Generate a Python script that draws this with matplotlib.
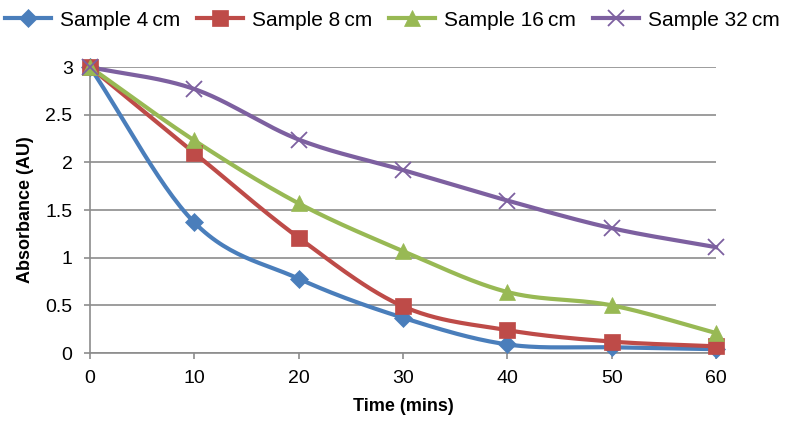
import numpy as np
import matplotlib
matplotlib.use('Agg')
import matplotlib.pyplot as plt

plt.rcParams['font.family'] = ['Liberation Sans', 'DejaVu Sans']

time = [0, 10, 20, 30, 40, 50, 60]
s4 = [3.0, 1.37, 0.78, 0.37, 0.09, 0.06, 0.04]
s8 = [3.0, 2.10, 1.21, 0.49, 0.24, 0.12, 0.07]
s16 = [3.0, 2.23, 1.57, 1.07, 0.64, 0.50, 0.21]
s32 = [3.0, 2.77, 2.24, 1.92, 1.60, 1.31, 1.11]

labels = ['Sample 4\u2009cm', 'Sample 8\u2009cm', 'Sample 16\u2009cm', 'Sample 32\u2009cm']
colors = ['#4A7EBB', '#BE4B48', '#98B954', '#7D60A0']
markers = ['D', 's', '^', 'x']
msizes = [9, 11, 11, 11]


def smooth(x, y, n=30):
    # catmull-rom curve through the points, like excel's smoothed lines
    x = np.asarray(x, float)
    y = np.asarray(y, float)
    px = np.concatenate([[2 * x[0] - x[1]], x, [2 * x[-1] - x[-2]]])
    py = np.concatenate([[2 * y[0] - y[1]], y, [2 * y[-1] - y[-2]]])
    xs, ys = [], []
    t = np.linspace(0, 1, n)
    for i in range(1, len(px) - 2):
        for p, out in ((px, xs), (py, ys)):
            p0, p1, p2, p3 = p[i - 1], p[i], p[i + 1], p[i + 2]
            out.extend(0.5 * (2 * p1 + (-p0 + p2) * t
                              + (2 * p0 - 5 * p1 + 4 * p2 - p3) * t ** 2
                              + (-p0 + 3 * p1 - 3 * p2 + p3) * t ** 3))
    return xs, ys


fig = plt.figure(figsize=(7.85, 4.22), dpi=100)
ax = fig.add_axes([0.1146, 0.1635, 0.7975, 0.6775])

for ys, lab, c, m, ms in zip([s4, s8, s16, s32], labels, colors, markers, msizes):
    sx, sy = smooth(time, ys)
    mew = 1.3 if m == 'x' else 0.5
    ax.plot(sx, sy, color=c, lw=3, clip_on=False, zorder=3)
    ax.plot(time, ys, ls='none', marker=m, ms=ms, color=c, mec=c,
            mew=mew, clip_on=False, zorder=4)
    ax.plot([], [], color=c, lw=3, marker=m, ms=ms, mew=mew, label=lab)

ax.set_xlim(0, 60)
ax.set_ylim(0, 3)
ax.set_xticks(time)
ax.set_yticks([0, 0.5, 1, 1.5, 2, 2.5, 3])
ax.set_yticklabels(['0', '0.5', '1', '1.5', '2', '2.5', '3'])
ax.grid(axis='y', color='#8C8C8C', lw=1.2)
ax.set_axisbelow(True)
for s in ['top', 'right']:
    ax.spines[s].set_visible(False)
for s in ['left', 'bottom']:
    ax.spines[s].set_color('#8C8C8C')
    ax.spines[s].set_linewidth(1.2)
ax.tick_params(axis='x', direction='out', length=4.5, color='#8C8C8C', width=1.2, labelsize=14, pad=8)
ax.tick_params(axis='y', direction='out', length=4.5, color='#8C8C8C', width=1.2, labelsize=14, pad=8)
ax.set_xlabel('Time (mins)', fontsize=13, fontweight='bold', labelpad=8)
ax.set_ylabel('Absorbance (AU)', fontsize=13, fontweight='bold', labelpad=8)

fig.legend(loc='center', bbox_to_anchor=(0.5, 0.952), ncol=4, frameon=False,
           fontsize=15, handlelength=2.2, handletextpad=0.45, columnspacing=0.8,
           borderaxespad=0, borderpad=0)

fig.savefig('out.png', dpi=100)
